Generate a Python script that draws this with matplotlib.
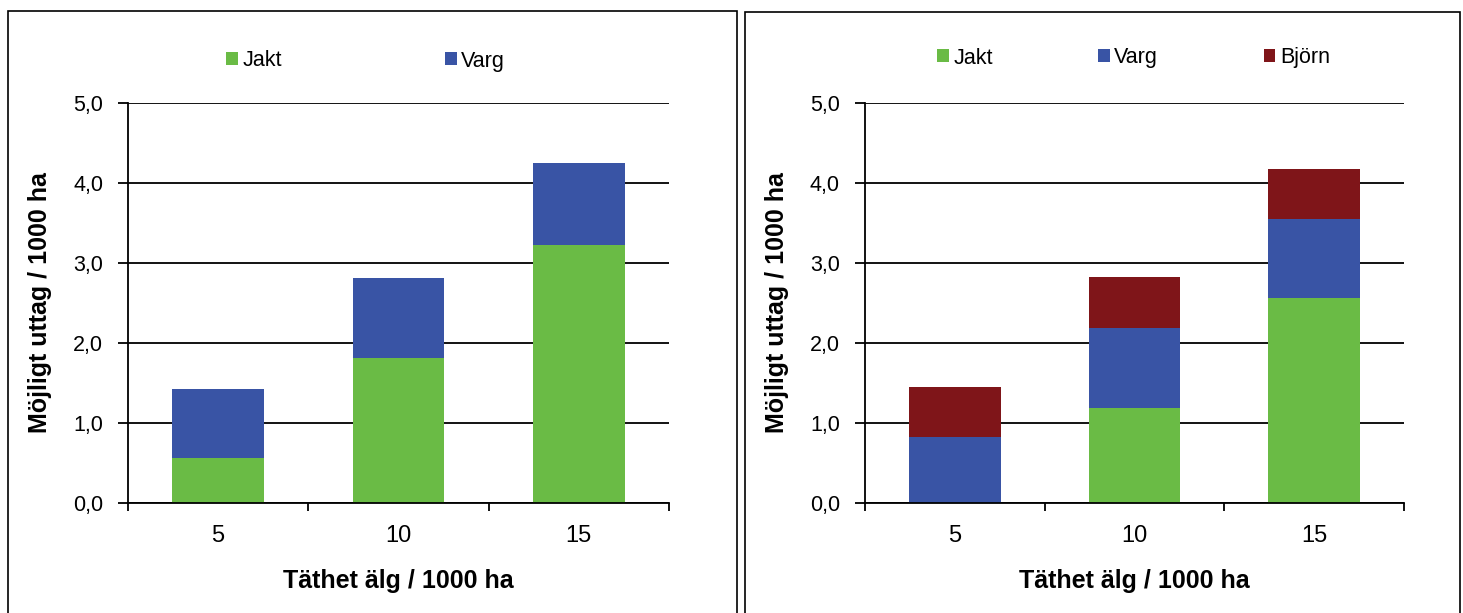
import matplotlib
matplotlib.use("Agg")
import matplotlib.pyplot as plt
from matplotlib.patches import Rectangle

# stacked removal per moose density
density = ["5", "10", "15"]

left_jakt = [0.56, 1.81, 3.23]
left_varg = [0.86, 1.00, 1.02]

right_jakt = [0.0, 1.19, 2.56]
right_varg = [0.83, 1.00, 0.99]
right_bjorn = [0.62, 0.63, 0.63]

green = "#6abb45"
blue = "#3954a5"
red = "#7f1519"

plt.rcParams["font.family"] = ["Liberation Sans", "DejaVu Sans"]

W, H = 1463, 613
fig = plt.figure(figsize=(W / 100, H / 100), dpi=100)


def px_axes(x0, x1, y_top, y_bot):
    return fig.add_axes([x0 / W, 1 - y_bot / H, (x1 - x0) / W, (y_bot - y_top) / H])


def style(ax):
    ax.set_ylim(0, 5)
    ax.set_xlim(-0.5, 2.5)
    ax.set_yticks([0, 1, 2, 3, 4, 5])
    ax.set_yticklabels(["0,0", "1,0", "2,0", "3,0", "4,0", "5,0"], fontsize=15.5)
    ax.yaxis.grid(True, color="black", linewidth=1.3)
    ax.set_axisbelow(True)
    ax.set_xticks([-0.5, 0.5, 1.5, 2.5])
    ax.set_xticklabels([])
    ax.set_xticks([0, 1, 2], minor=True)
    ax.set_xticklabels(density, minor=True, fontsize=17)
    ax.tick_params(axis="x", which="minor", length=0, pad=15.5)
    ax.tick_params(axis="x", which="major", length=6, width=1.3, direction="out")
    ax.tick_params(axis="y", length=7, width=1.3, direction="out", pad=11)
    for s in ["top", "right"]:
        ax.spines[s].set_visible(False)
    for s in ["left", "bottom"]:
        ax.spines[s].set_linewidth(1.3)
    ax.set_ylabel("Möjligt uttag / 1000 ha", fontsize=18, fontweight="bold", labelpad=15)
    ax.set_xlabel("Täthet älg / 1000 ha", fontsize=18, fontweight="bold", labelpad=16)


x = range(len(density))
bw = 0.51
leg_kw = dict(loc="center left", frameon=False, fontsize=15.5, handlelength=0.55,
              handleheight=0.55, handletextpad=0.2, borderpad=0, borderaxespad=0)

# left panel: Jakt + Varg
ax1 = px_axes(128, 669, 103, 503)
b1 = ax1.bar(x, left_jakt, bw, color=green, label="Jakt")
b2 = ax1.bar(x, left_varg, bw, bottom=left_jakt, color=blue, label="Varg")
style(ax1)
ax1.legend(handles=[b1, b2], ncol=2, columnspacing=7.6,
           bbox_to_anchor=((226 - 128) / (669 - 128), (503 - 61) / 400), **leg_kw)

# right panel: Jakt + Varg + Björn
ax2 = px_axes(865, 1404, 103, 503)
c1 = ax2.bar(x, right_jakt, bw, color=green, label="Jakt")
c2 = ax2.bar(x, right_varg, bw, bottom=right_jakt, color=blue, label="Varg")
base = [a + b for a, b in zip(right_jakt, right_varg)]
c3 = ax2.bar(x, right_bjorn, bw, bottom=base, color=red, label="Björn")
style(ax2)
ax2.legend(handles=[c1, c2, c3], ncol=3, columnspacing=4.9,
           bbox_to_anchor=((937 - 865) / (1404 - 865), (503 - 58) / 400), **leg_kw)

# panel frames
for x0, x1, y0 in [(8, 737, 11), (745, 1460, 12)]:
    fig.patches.append(Rectangle((x0 / W, -0.05), (x1 - x0) / W, 1 - y0 / H + 0.05,
                                 transform=fig.transFigure, fill=False,
                                 edgecolor="black", linewidth=1.2))

fig.savefig("out.png", dpi=100)
